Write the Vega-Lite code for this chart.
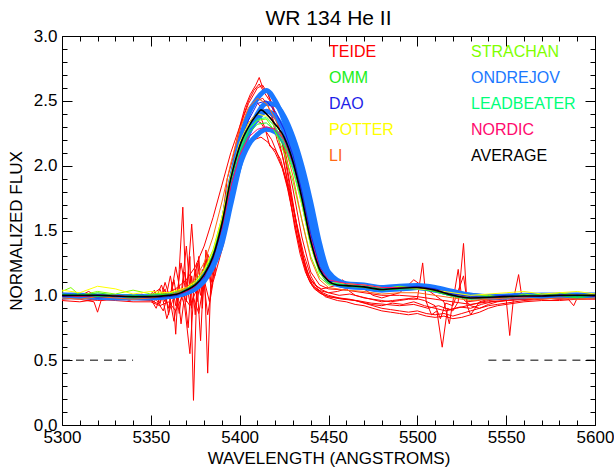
{
  "$schema": "https://vega.github.io/schema/vega-lite/v6.json",
  "width": 533,
  "height": 389,
  "autosize": "none",
  "padding": {"left": 62, "top": 36, "right": 19, "bottom": 46},
  "title": {"text": "WR 134 He II", "fontSize": 21, "fontWeight": "normal", "font": "Liberation Sans", "color": "black", "baseline": "alphabetic", "offset": 9, "frame": "group", "anchor": "middle", "dy": 28},
  "config": {
    "view": {"stroke": null},
    "font": "Liberation Sans",
    "axis": {"grid": false, "domainColor": "black", "tickColor": "black", "labelColor": "black", "titleColor": "black", "labelFont": "Liberation Sans", "titleFont": "Liberation Sans", "labelFontSize": 17, "titleFontSize": 17, "titleFontWeight": "normal", "domainWidth": 1, "tickWidth": 1}
  },
  "datasets": {
    "spec": [
      {"o":"TEIDE","id":"t1","x":5300,"y":0.98},{"o":"TEIDE","id":"t1","x":5310,"y":0.97},{"o":"TEIDE","id":"t1","x":5318,"y":0.95},{"o":"TEIDE","id":"t1","x":5320,"y":0.87},{"o":"TEIDE","id":"t1","x":5322,"y":0.96},{"o":"TEIDE","id":"t1","x":5330,"y":0.98},{"o":"TEIDE","id":"t1","x":5340,"y":0.97},{"o":"TEIDE","id":"t1","x":5350,"y":0.96},{"o":"TEIDE","id":"t1","x":5355,"y":0.93},{"o":"TEIDE","id":"t1","x":5358,"y":1.05},{"o":"TEIDE","id":"t1","x":5360,"y":0.85},{"o":"TEIDE","id":"t1","x":5362,"y":1.1},{"o":"TEIDE","id":"t1","x":5364,"y":0.7},{"o":"TEIDE","id":"t1","x":5366,"y":1.2},{"o":"TEIDE","id":"t1","x":5368,"y":1.68},{"o":"TEIDE","id":"t1","x":5370,"y":0.95},{"o":"TEIDE","id":"t1","x":5372,"y":1.3},{"o":"TEIDE","id":"t1","x":5374,"y":0.19},{"o":"TEIDE","id":"t1","x":5376,"y":1.1},{"o":"TEIDE","id":"t1","x":5378,"y":0.65},{"o":"TEIDE","id":"t1","x":5380,"y":1.25},{"o":"TEIDE","id":"t1","x":5382,"y":0.4},{"o":"TEIDE","id":"t1","x":5384,"y":1.2},{"o":"TEIDE","id":"t1","x":5386,"y":1.15},{"o":"TEIDE","id":"t1","x":5388,"y":1.45},{"o":"TEIDE","id":"t1","x":5390,"y":1.55},{"o":"TEIDE","id":"t1","x":5393,"y":1.9},{"o":"TEIDE","id":"t1","x":5396,"y":2.05},{"o":"TEIDE","id":"t1","x":5400,"y":2.3},{"o":"TEIDE","id":"t1","x":5403,"y":2.45},{"o":"TEIDE","id":"t1","x":5406,"y":2.55},{"o":"TEIDE","id":"t1","x":5409,"y":2.62},{"o":"TEIDE","id":"t1","x":5411,"y":2.68},{"o":"TEIDE","id":"t1","x":5413,"y":2.6},{"o":"TEIDE","id":"t1","x":5416,"y":2.55},{"o":"TEIDE","id":"t1","x":5419,"y":2.45},{"o":"TEIDE","id":"t1","x":5422,"y":2.3},{"o":"TEIDE","id":"t1","x":5425,"y":2.1},{"o":"TEIDE","id":"t1","x":5428,"y":1.85},{"o":"TEIDE","id":"t1","x":5431,"y":1.6},{"o":"TEIDE","id":"t1","x":5434,"y":1.4},{"o":"TEIDE","id":"t1","x":5437,"y":1.22},{"o":"TEIDE","id":"t1","x":5440,"y":1.12},{"o":"TEIDE","id":"t1","x":5445,"y":1.05},{"o":"TEIDE","id":"t1","x":5450,"y":1.02},{"o":"TEIDE","id":"t1","x":5455,"y":1.03},{"o":"TEIDE","id":"t1","x":5460,"y":1.05},{"o":"TEIDE","id":"t1","x":5465,"y":1.0},{"o":"TEIDE","id":"t1","x":5470,"y":0.98},{"o":"TEIDE","id":"t1","x":5475,"y":0.97},{"o":"TEIDE","id":"t1","x":5480,"y":0.96},{"o":"TEIDE","id":"t1","x":5485,"y":0.95},{"o":"TEIDE","id":"t1","x":5490,"y":0.96},{"o":"TEIDE","id":"t1","x":5495,"y":0.97},{"o":"TEIDE","id":"t1","x":5500,"y":0.97},{"o":"TEIDE","id":"t1","x":5503,"y":1.25},{"o":"TEIDE","id":"t1","x":5505,"y":0.95},{"o":"TEIDE","id":"t1","x":5508,"y":0.85},{"o":"TEIDE","id":"t1","x":5511,"y":0.88},{"o":"TEIDE","id":"t1","x":5514,"y":0.6},{"o":"TEIDE","id":"t1","x":5517,"y":0.9},{"o":"TEIDE","id":"t1","x":5520,"y":0.88},{"o":"TEIDE","id":"t1","x":5523,"y":0.95},{"o":"TEIDE","id":"t1","x":5526,"y":1.4},{"o":"TEIDE","id":"t1","x":5528,"y":0.92},{"o":"TEIDE","id":"t1","x":5530,"y":0.85},{"o":"TEIDE","id":"t1","x":5535,"y":0.95},{"o":"TEIDE","id":"t1","x":5540,"y":0.97},{"o":"TEIDE","id":"t1","x":5545,"y":0.98},{"o":"TEIDE","id":"t1","x":5550,"y":0.97},{"o":"TEIDE","id":"t1","x":5552,"y":0.69},{"o":"TEIDE","id":"t1","x":5554,"y":0.96},{"o":"TEIDE","id":"t1","x":5557,"y":1.16},{"o":"TEIDE","id":"t1","x":5559,"y":0.97},{"o":"TEIDE","id":"t1","x":5565,"y":0.98},{"o":"TEIDE","id":"t1","x":5570,"y":0.97},{"o":"TEIDE","id":"t1","x":5575,"y":0.99},{"o":"TEIDE","id":"t1","x":5580,"y":0.98},{"o":"TEIDE","id":"t1","x":5585,"y":0.97},{"o":"TEIDE","id":"t1","x":5588,"y":0.92},{"o":"TEIDE","id":"t1","x":5590,"y":0.98},{"o":"TEIDE","id":"t1","x":5595,"y":0.99},{"o":"TEIDE","id":"t1","x":5600,"y":0.98},

      {"o":"TEIDE","id":"t2","x":5300,"y":1.0},{"o":"TEIDE","id":"t2","x":5305,"y":0.99},{"o":"TEIDE","id":"t2","x":5310,"y":1.01},{"o":"TEIDE","id":"t2","x":5315,"y":0.98},{"o":"TEIDE","id":"t2","x":5320,"y":0.99},{"o":"TEIDE","id":"t2","x":5325,"y":0.97},{"o":"TEIDE","id":"t2","x":5330,"y":1.0},{"o":"TEIDE","id":"t2","x":5335,"y":0.98},{"o":"TEIDE","id":"t2","x":5340,"y":0.97},{"o":"TEIDE","id":"t2","x":5345,"y":0.98},{"o":"TEIDE","id":"t2","x":5350,"y":0.97},{"o":"TEIDE","id":"t2","x":5353,"y":0.9},{"o":"TEIDE","id":"t2","x":5356,"y":1.02},{"o":"TEIDE","id":"t2","x":5359,"y":0.82},{"o":"TEIDE","id":"t2","x":5362,"y":0.95},{"o":"TEIDE","id":"t2","x":5365,"y":1.05},{"o":"TEIDE","id":"t2","x":5367,"y":0.78},{"o":"TEIDE","id":"t2","x":5369,"y":1.0},{"o":"TEIDE","id":"t2","x":5371,"y":0.75},{"o":"TEIDE","id":"t2","x":5373,"y":1.15},{"o":"TEIDE","id":"t2","x":5375,"y":0.85},{"o":"TEIDE","id":"t2","x":5377,"y":1.3},{"o":"TEIDE","id":"t2","x":5379,"y":0.9},{"o":"TEIDE","id":"t2","x":5381,"y":1.35},{"o":"TEIDE","id":"t2","x":5384,"y":1.05},{"o":"TEIDE","id":"t2","x":5387,"y":1.3},{"o":"TEIDE","id":"t2","x":5390,"y":1.45},{"o":"TEIDE","id":"t2","x":5393,"y":1.7},{"o":"TEIDE","id":"t2","x":5396,"y":1.92},{"o":"TEIDE","id":"t2","x":5399,"y":2.1},{"o":"TEIDE","id":"t2","x":5402,"y":2.25},{"o":"TEIDE","id":"t2","x":5405,"y":2.33},{"o":"TEIDE","id":"t2","x":5408,"y":2.38},{"o":"TEIDE","id":"t2","x":5411,"y":2.4},{"o":"TEIDE","id":"t2","x":5414,"y":2.3},{"o":"TEIDE","id":"t2","x":5417,"y":2.15},{"o":"TEIDE","id":"t2","x":5420,"y":2.12},{"o":"TEIDE","id":"t2","x":5423,"y":2.05},{"o":"TEIDE","id":"t2","x":5426,"y":1.9},{"o":"TEIDE","id":"t2","x":5429,"y":1.7},{"o":"TEIDE","id":"t2","x":5432,"y":1.48},{"o":"TEIDE","id":"t2","x":5435,"y":1.3},{"o":"TEIDE","id":"t2","x":5438,"y":1.15},{"o":"TEIDE","id":"t2","x":5441,"y":1.07},{"o":"TEIDE","id":"t2","x":5445,"y":1.02},{"o":"TEIDE","id":"t2","x":5450,"y":0.99},{"o":"TEIDE","id":"t2","x":5455,"y":0.98},{"o":"TEIDE","id":"t2","x":5460,"y":0.97},{"o":"TEIDE","id":"t2","x":5465,"y":0.96},{"o":"TEIDE","id":"t2","x":5470,"y":0.94},{"o":"TEIDE","id":"t2","x":5475,"y":0.92},{"o":"TEIDE","id":"t2","x":5480,"y":0.9},{"o":"TEIDE","id":"t2","x":5485,"y":0.89},{"o":"TEIDE","id":"t2","x":5490,"y":0.88},{"o":"TEIDE","id":"t2","x":5495,"y":0.87},{"o":"TEIDE","id":"t2","x":5500,"y":0.88},{"o":"TEIDE","id":"t2","x":5505,"y":0.86},{"o":"TEIDE","id":"t2","x":5510,"y":0.85},{"o":"TEIDE","id":"t2","x":5515,"y":0.86},{"o":"TEIDE","id":"t2","x":5520,"y":0.84},{"o":"TEIDE","id":"t2","x":5525,"y":0.86},{"o":"TEIDE","id":"t2","x":5530,"y":0.88},{"o":"TEIDE","id":"t2","x":5535,"y":0.9},{"o":"TEIDE","id":"t2","x":5540,"y":0.92},{"o":"TEIDE","id":"t2","x":5545,"y":0.93},{"o":"TEIDE","id":"t2","x":5550,"y":0.94},{"o":"TEIDE","id":"t2","x":5555,"y":0.95},{"o":"TEIDE","id":"t2","x":5560,"y":0.96},{"o":"TEIDE","id":"t2","x":5570,"y":0.97},{"o":"TEIDE","id":"t2","x":5580,"y":0.98},{"o":"TEIDE","id":"t2","x":5590,"y":0.97},{"o":"TEIDE","id":"t2","x":5600,"y":0.98},

      {"o":"TEIDE","id":"t3","x":5300,"y":0.97},{"o":"TEIDE","id":"t3","x":5310,"y":0.98},{"o":"TEIDE","id":"t3","x":5320,"y":0.96},{"o":"TEIDE","id":"t3","x":5330,"y":0.97},{"o":"TEIDE","id":"t3","x":5340,"y":0.98},{"o":"TEIDE","id":"t3","x":5350,"y":1.0},{"o":"TEIDE","id":"t3","x":5355,"y":1.05},{"o":"TEIDE","id":"t3","x":5358,"y":0.95},{"o":"TEIDE","id":"t3","x":5361,"y":1.15},{"o":"TEIDE","id":"t3","x":5364,"y":0.92},{"o":"TEIDE","id":"t3","x":5367,"y":1.25},{"o":"TEIDE","id":"t3","x":5370,"y":1.0},{"o":"TEIDE","id":"t3","x":5373,"y":1.55},{"o":"TEIDE","id":"t3","x":5376,"y":0.95},{"o":"TEIDE","id":"t3","x":5379,"y":1.2},{"o":"TEIDE","id":"t3","x":5382,"y":0.85},{"o":"TEIDE","id":"t3","x":5385,"y":1.1},{"o":"TEIDE","id":"t3","x":5388,"y":1.25},{"o":"TEIDE","id":"t3","x":5391,"y":1.4},{"o":"TEIDE","id":"t3","x":5394,"y":1.65},{"o":"TEIDE","id":"t3","x":5397,"y":1.88},{"o":"TEIDE","id":"t3","x":5400,"y":2.1},{"o":"TEIDE","id":"t3","x":5403,"y":2.3},{"o":"TEIDE","id":"t3","x":5406,"y":2.42},{"o":"TEIDE","id":"t3","x":5409,"y":2.5},{"o":"TEIDE","id":"t3","x":5412,"y":2.45},{"o":"TEIDE","id":"t3","x":5415,"y":2.42},{"o":"TEIDE","id":"t3","x":5418,"y":2.38},{"o":"TEIDE","id":"t3","x":5421,"y":2.2},{"o":"TEIDE","id":"t3","x":5424,"y":2.08},{"o":"TEIDE","id":"t3","x":5427,"y":1.88},{"o":"TEIDE","id":"t3","x":5430,"y":1.7},{"o":"TEIDE","id":"t3","x":5433,"y":1.48},{"o":"TEIDE","id":"t3","x":5436,"y":1.28},{"o":"TEIDE","id":"t3","x":5439,"y":1.15},{"o":"TEIDE","id":"t3","x":5442,"y":1.08},{"o":"TEIDE","id":"t3","x":5446,"y":1.05},{"o":"TEIDE","id":"t3","x":5450,"y":1.06},{"o":"TEIDE","id":"t3","x":5455,"y":1.08},{"o":"TEIDE","id":"t3","x":5458,"y":1.12},{"o":"TEIDE","id":"t3","x":5460,"y":1.08},{"o":"TEIDE","id":"t3","x":5465,"y":1.07},{"o":"TEIDE","id":"t3","x":5470,"y":1.05},{"o":"TEIDE","id":"t3","x":5475,"y":1.0},{"o":"TEIDE","id":"t3","x":5480,"y":0.98},{"o":"TEIDE","id":"t3","x":5485,"y":1.0},{"o":"TEIDE","id":"t3","x":5490,"y":1.02},{"o":"TEIDE","id":"t3","x":5495,"y":1.08},{"o":"TEIDE","id":"t3","x":5498,"y":1.12},{"o":"TEIDE","id":"t3","x":5502,"y":1.08},{"o":"TEIDE","id":"t3","x":5505,"y":1.05},{"o":"TEIDE","id":"t3","x":5510,"y":1.0},{"o":"TEIDE","id":"t3","x":5515,"y":0.95},{"o":"TEIDE","id":"t3","x":5518,"y":0.78},{"o":"TEIDE","id":"t3","x":5520,"y":0.95},{"o":"TEIDE","id":"t3","x":5523,"y":1.2},{"o":"TEIDE","id":"t3","x":5525,"y":0.98},{"o":"TEIDE","id":"t3","x":5530,"y":0.92},{"o":"TEIDE","id":"t3","x":5535,"y":0.9},{"o":"TEIDE","id":"t3","x":5540,"y":0.93},{"o":"TEIDE","id":"t3","x":5545,"y":0.95},{"o":"TEIDE","id":"t3","x":5550,"y":0.96},{"o":"TEIDE","id":"t3","x":5555,"y":0.97},{"o":"TEIDE","id":"t3","x":5560,"y":0.97},{"o":"TEIDE","id":"t3","x":5570,"y":0.98},{"o":"TEIDE","id":"t3","x":5580,"y":0.97},{"o":"TEIDE","id":"t3","x":5590,"y":0.98},{"o":"TEIDE","id":"t3","x":5600,"y":0.99},

      {"o":"TEIDE","id":"t4","x":5300,"y":1.0},{"o":"TEIDE","id":"t4","x":5310,"y":0.99},{"o":"TEIDE","id":"t4","x":5320,"y":1.0},{"o":"TEIDE","id":"t4","x":5330,"y":0.99},{"o":"TEIDE","id":"t4","x":5340,"y":0.99},{"o":"TEIDE","id":"t4","x":5350,"y":0.99},{"o":"TEIDE","id":"t4","x":5355,"y":1.0},{"o":"TEIDE","id":"t4","x":5360,"y":1.02},{"o":"TEIDE","id":"t4","x":5365,"y":1.06},{"o":"TEIDE","id":"t4","x":5370,"y":1.12},{"o":"TEIDE","id":"t4","x":5375,"y":1.22},{"o":"TEIDE","id":"t4","x":5380,"y":1.38},{"o":"TEIDE","id":"t4","x":5385,"y":1.6},{"o":"TEIDE","id":"t4","x":5390,"y":1.85},{"o":"TEIDE","id":"t4","x":5395,"y":2.1},{"o":"TEIDE","id":"t4","x":5400,"y":2.3},{"o":"TEIDE","id":"t4","x":5405,"y":2.48},{"o":"TEIDE","id":"t4","x":5410,"y":2.6},{"o":"TEIDE","id":"t4","x":5413,"y":2.62},{"o":"TEIDE","id":"t4","x":5416,"y":2.55},{"o":"TEIDE","id":"t4","x":5420,"y":2.4},{"o":"TEIDE","id":"t4","x":5425,"y":2.15},{"o":"TEIDE","id":"t4","x":5430,"y":1.82},{"o":"TEIDE","id":"t4","x":5435,"y":1.45},{"o":"TEIDE","id":"t4","x":5440,"y":1.18},{"o":"TEIDE","id":"t4","x":5445,"y":1.08},{"o":"TEIDE","id":"t4","x":5450,"y":1.05},{"o":"TEIDE","id":"t4","x":5460,"y":1.04},{"o":"TEIDE","id":"t4","x":5470,"y":1.02},{"o":"TEIDE","id":"t4","x":5480,"y":1.0},{"o":"TEIDE","id":"t4","x":5490,"y":1.0},{"o":"TEIDE","id":"t4","x":5500,"y":0.99},{"o":"TEIDE","id":"t4","x":5510,"y":0.97},{"o":"TEIDE","id":"t4","x":5520,"y":0.95},{"o":"TEIDE","id":"t4","x":5530,"y":0.93},{"o":"TEIDE","id":"t4","x":5540,"y":0.95},{"o":"TEIDE","id":"t4","x":5550,"y":0.96},{"o":"TEIDE","id":"t4","x":5560,"y":0.97},{"o":"TEIDE","id":"t4","x":5570,"y":0.98},{"o":"TEIDE","id":"t4","x":5580,"y":0.99},{"o":"TEIDE","id":"t4","x":5590,"y":0.98},{"o":"TEIDE","id":"t4","x":5600,"y":0.99},

      {"o":"TEIDE","id":"t5","x":5300,"y":0.96},{"o":"TEIDE","id":"t5","x":5310,"y":0.95},{"o":"TEIDE","id":"t5","x":5320,"y":0.97},{"o":"TEIDE","id":"t5","x":5330,"y":0.96},{"o":"TEIDE","id":"t5","x":5340,"y":0.95},{"o":"TEIDE","id":"t5","x":5350,"y":0.95},{"o":"TEIDE","id":"t5","x":5355,"y":0.92},{"o":"TEIDE","id":"t5","x":5360,"y":0.95},{"o":"TEIDE","id":"t5","x":5364,"y":0.88},{"o":"TEIDE","id":"t5","x":5368,"y":1.0},{"o":"TEIDE","id":"t5","x":5372,"y":0.92},{"o":"TEIDE","id":"t5","x":5376,"y":1.05},{"o":"TEIDE","id":"t5","x":5380,"y":1.1},{"o":"TEIDE","id":"t5","x":5384,"y":1.2},{"o":"TEIDE","id":"t5","x":5388,"y":1.35},{"o":"TEIDE","id":"t5","x":5392,"y":1.6},{"o":"TEIDE","id":"t5","x":5396,"y":1.85},{"o":"TEIDE","id":"t5","x":5400,"y":2.02},{"o":"TEIDE","id":"t5","x":5404,"y":2.15},{"o":"TEIDE","id":"t5","x":5408,"y":2.2},{"o":"TEIDE","id":"t5","x":5412,"y":2.22},{"o":"TEIDE","id":"t5","x":5416,"y":2.18},{"o":"TEIDE","id":"t5","x":5420,"y":2.1},{"o":"TEIDE","id":"t5","x":5424,"y":1.98},{"o":"TEIDE","id":"t5","x":5428,"y":1.8},{"o":"TEIDE","id":"t5","x":5432,"y":1.56},{"o":"TEIDE","id":"t5","x":5436,"y":1.32},{"o":"TEIDE","id":"t5","x":5440,"y":1.15},{"o":"TEIDE","id":"t5","x":5444,"y":1.05},{"o":"TEIDE","id":"t5","x":5448,"y":0.99},{"o":"TEIDE","id":"t5","x":5455,"y":0.96},{"o":"TEIDE","id":"t5","x":5460,"y":0.95},{"o":"TEIDE","id":"t5","x":5465,"y":0.93},{"o":"TEIDE","id":"t5","x":5470,"y":0.92},{"o":"TEIDE","id":"t5","x":5475,"y":0.9},{"o":"TEIDE","id":"t5","x":5480,"y":0.88},{"o":"TEIDE","id":"t5","x":5485,"y":0.87},{"o":"TEIDE","id":"t5","x":5490,"y":0.86},{"o":"TEIDE","id":"t5","x":5495,"y":0.85},{"o":"TEIDE","id":"t5","x":5500,"y":0.86},{"o":"TEIDE","id":"t5","x":5505,"y":0.84},{"o":"TEIDE","id":"t5","x":5510,"y":0.83},{"o":"TEIDE","id":"t5","x":5515,"y":0.84},{"o":"TEIDE","id":"t5","x":5520,"y":0.82},{"o":"TEIDE","id":"t5","x":5525,"y":0.83},{"o":"TEIDE","id":"t5","x":5530,"y":0.85},{"o":"TEIDE","id":"t5","x":5535,"y":0.87},{"o":"TEIDE","id":"t5","x":5540,"y":0.9},{"o":"TEIDE","id":"t5","x":5545,"y":0.92},{"o":"TEIDE","id":"t5","x":5550,"y":0.93},{"o":"TEIDE","id":"t5","x":5555,"y":0.94},{"o":"TEIDE","id":"t5","x":5560,"y":0.95},{"o":"TEIDE","id":"t5","x":5570,"y":0.96},{"o":"TEIDE","id":"t5","x":5580,"y":0.96},{"o":"TEIDE","id":"t5","x":5590,"y":0.97},{"o":"TEIDE","id":"t5","x":5600,"y":0.97},

      {"o":"TEIDE","id":"t6","x":5300,"y":1.02},{"o":"TEIDE","id":"t6","x":5308,"y":0.98},{"o":"TEIDE","id":"t6","x":5315,"y":1.03},{"o":"TEIDE","id":"t6","x":5322,"y":0.97},{"o":"TEIDE","id":"t6","x":5330,"y":1.0},{"o":"TEIDE","id":"t6","x":5338,"y":0.96},{"o":"TEIDE","id":"t6","x":5345,"y":1.01},{"o":"TEIDE","id":"t6","x":5352,"y":0.95},{"o":"TEIDE","id":"t6","x":5356,"y":1.08},{"o":"TEIDE","id":"t6","x":5360,"y":0.9},{"o":"TEIDE","id":"t6","x":5363,"y":1.12},{"o":"TEIDE","id":"t6","x":5366,"y":0.86},{"o":"TEIDE","id":"t6","x":5369,"y":1.18},{"o":"TEIDE","id":"t6","x":5372,"y":0.94},{"o":"TEIDE","id":"t6","x":5375,"y":1.2},{"o":"TEIDE","id":"t6","x":5378,"y":1.0},{"o":"TEIDE","id":"t6","x":5381,"y":1.28},{"o":"TEIDE","id":"t6","x":5384,"y":1.1},{"o":"TEIDE","id":"t6","x":5387,"y":1.38},{"o":"TEIDE","id":"t6","x":5390,"y":1.5},{"o":"TEIDE","id":"t6","x":5393,"y":1.75},{"o":"TEIDE","id":"t6","x":5396,"y":2.0},{"o":"TEIDE","id":"t6","x":5399,"y":2.2},{"o":"TEIDE","id":"t6","x":5402,"y":2.38},{"o":"TEIDE","id":"t6","x":5405,"y":2.5},{"o":"TEIDE","id":"t6","x":5408,"y":2.58},{"o":"TEIDE","id":"t6","x":5411,"y":2.63},{"o":"TEIDE","id":"t6","x":5414,"y":2.56},{"o":"TEIDE","id":"t6","x":5417,"y":2.5},{"o":"TEIDE","id":"t6","x":5420,"y":2.38},{"o":"TEIDE","id":"t6","x":5423,"y":2.25},{"o":"TEIDE","id":"t6","x":5426,"y":2.05},{"o":"TEIDE","id":"t6","x":5429,"y":1.8},{"o":"TEIDE","id":"t6","x":5432,"y":1.55},{"o":"TEIDE","id":"t6","x":5435,"y":1.34},{"o":"TEIDE","id":"t6","x":5438,"y":1.18},{"o":"TEIDE","id":"t6","x":5441,"y":1.08},{"o":"TEIDE","id":"t6","x":5445,"y":1.03},{"o":"TEIDE","id":"t6","x":5450,"y":1.0},{"o":"TEIDE","id":"t6","x":5456,"y":0.98},{"o":"TEIDE","id":"t6","x":5462,"y":0.97},{"o":"TEIDE","id":"t6","x":5468,"y":0.95},{"o":"TEIDE","id":"t6","x":5474,"y":0.93},{"o":"TEIDE","id":"t6","x":5480,"y":0.92},{"o":"TEIDE","id":"t6","x":5486,"y":0.94},{"o":"TEIDE","id":"t6","x":5492,"y":0.93},{"o":"TEIDE","id":"t6","x":5498,"y":0.95},{"o":"TEIDE","id":"t6","x":5504,"y":0.92},{"o":"TEIDE","id":"t6","x":5510,"y":0.9},{"o":"TEIDE","id":"t6","x":5516,"y":0.88},{"o":"TEIDE","id":"t6","x":5522,"y":0.9},{"o":"TEIDE","id":"t6","x":5528,"y":0.92},{"o":"TEIDE","id":"t6","x":5534,"y":0.94},{"o":"TEIDE","id":"t6","x":5540,"y":0.96},{"o":"TEIDE","id":"t6","x":5548,"y":0.97},{"o":"TEIDE","id":"t6","x":5556,"y":0.98},{"o":"TEIDE","id":"t6","x":5564,"y":0.97},{"o":"TEIDE","id":"t6","x":5572,"y":0.99},{"o":"TEIDE","id":"t6","x":5580,"y":0.98},{"o":"TEIDE","id":"t6","x":5590,"y":0.99},{"o":"TEIDE","id":"t6","x":5600,"y":0.98},

      {"o":"TEIDE","id":"t7","x":5300,"y":0.99},{"o":"TEIDE","id":"t7","x":5310,"y":0.98},{"o":"TEIDE","id":"t7","x":5320,"y":0.99},{"o":"TEIDE","id":"t7","x":5330,"y":0.98},{"o":"TEIDE","id":"t7","x":5340,"y":0.97},{"o":"TEIDE","id":"t7","x":5348,"y":0.98},{"o":"TEIDE","id":"t7","x":5352,"y":1.04},{"o":"TEIDE","id":"t7","x":5355,"y":0.94},{"o":"TEIDE","id":"t7","x":5358,"y":1.1},{"o":"TEIDE","id":"t7","x":5361,"y":0.97},{"o":"TEIDE","id":"t7","x":5364,"y":1.22},{"o":"TEIDE","id":"t7","x":5367,"y":1.0},{"o":"TEIDE","id":"t7","x":5370,"y":1.38},{"o":"TEIDE","id":"t7","x":5373,"y":0.9},{"o":"TEIDE","id":"t7","x":5376,"y":1.25},{"o":"TEIDE","id":"t7","x":5379,"y":1.05},{"o":"TEIDE","id":"t7","x":5382,"y":1.32},{"o":"TEIDE","id":"t7","x":5385,"y":1.2},{"o":"TEIDE","id":"t7","x":5388,"y":1.3},{"o":"TEIDE","id":"t7","x":5391,"y":1.5},{"o":"TEIDE","id":"t7","x":5394,"y":1.72},{"o":"TEIDE","id":"t7","x":5397,"y":1.95},{"o":"TEIDE","id":"t7","x":5400,"y":2.12},{"o":"TEIDE","id":"t7","x":5403,"y":2.22},{"o":"TEIDE","id":"t7","x":5406,"y":2.3},{"o":"TEIDE","id":"t7","x":5409,"y":2.35},{"o":"TEIDE","id":"t7","x":5412,"y":2.33},{"o":"TEIDE","id":"t7","x":5415,"y":2.26},{"o":"TEIDE","id":"t7","x":5418,"y":2.2},{"o":"TEIDE","id":"t7","x":5421,"y":2.1},{"o":"TEIDE","id":"t7","x":5424,"y":1.98},{"o":"TEIDE","id":"t7","x":5427,"y":1.82},{"o":"TEIDE","id":"t7","x":5430,"y":1.62},{"o":"TEIDE","id":"t7","x":5433,"y":1.42},{"o":"TEIDE","id":"t7","x":5436,"y":1.25},{"o":"TEIDE","id":"t7","x":5439,"y":1.12},{"o":"TEIDE","id":"t7","x":5442,"y":1.05},{"o":"TEIDE","id":"t7","x":5446,"y":1.01},{"o":"TEIDE","id":"t7","x":5450,"y":0.99},{"o":"TEIDE","id":"t7","x":5458,"y":0.97},{"o":"TEIDE","id":"t7","x":5466,"y":0.96},{"o":"TEIDE","id":"t7","x":5474,"y":0.94},{"o":"TEIDE","id":"t7","x":5482,"y":0.93},{"o":"TEIDE","id":"t7","x":5490,"y":0.92},{"o":"TEIDE","id":"t7","x":5498,"y":0.93},{"o":"TEIDE","id":"t7","x":5506,"y":0.9},{"o":"TEIDE","id":"t7","x":5512,"y":0.92},{"o":"TEIDE","id":"t7","x":5518,"y":0.89},{"o":"TEIDE","id":"t7","x":5524,"y":0.91},{"o":"TEIDE","id":"t7","x":5530,"y":0.9},{"o":"TEIDE","id":"t7","x":5536,"y":0.93},{"o":"TEIDE","id":"t7","x":5542,"y":0.95},{"o":"TEIDE","id":"t7","x":5550,"y":0.96},{"o":"TEIDE","id":"t7","x":5560,"y":0.97},{"o":"TEIDE","id":"t7","x":5570,"y":0.98},{"o":"TEIDE","id":"t7","x":5580,"y":0.97},{"o":"TEIDE","id":"t7","x":5590,"y":0.98},{"o":"TEIDE","id":"t7","x":5600,"y":0.98},

      {"o":"TEIDE","id":"t8","x":5300,"y":0.98},{"o":"TEIDE","id":"t8","x":5312,"y":0.99},{"o":"TEIDE","id":"t8","x":5325,"y":0.98},{"o":"TEIDE","id":"t8","x":5335,"y":0.99},{"o":"TEIDE","id":"t8","x":5345,"y":0.97},{"o":"TEIDE","id":"t8","x":5352,"y":0.99},{"o":"TEIDE","id":"t8","x":5357,"y":0.88},{"o":"TEIDE","id":"t8","x":5360,"y":1.02},{"o":"TEIDE","id":"t8","x":5363,"y":0.8},{"o":"TEIDE","id":"t8","x":5366,"y":1.05},{"o":"TEIDE","id":"t8","x":5369,"y":0.92},{"o":"TEIDE","id":"t8","x":5372,"y":0.55},{"o":"TEIDE","id":"t8","x":5374,"y":0.98},{"o":"TEIDE","id":"t8","x":5377,"y":0.86},{"o":"TEIDE","id":"t8","x":5380,"y":1.12},{"o":"TEIDE","id":"t8","x":5383,"y":0.95},{"o":"TEIDE","id":"t8","x":5386,"y":1.22},{"o":"TEIDE","id":"t8","x":5389,"y":1.36},{"o":"TEIDE","id":"t8","x":5392,"y":1.58},{"o":"TEIDE","id":"t8","x":5395,"y":1.82},{"o":"TEIDE","id":"t8","x":5398,"y":2.02},{"o":"TEIDE","id":"t8","x":5401,"y":2.2},{"o":"TEIDE","id":"t8","x":5404,"y":2.35},{"o":"TEIDE","id":"t8","x":5407,"y":2.44},{"o":"TEIDE","id":"t8","x":5410,"y":2.5},{"o":"TEIDE","id":"t8","x":5413,"y":2.52},{"o":"TEIDE","id":"t8","x":5416,"y":2.46},{"o":"TEIDE","id":"t8","x":5419,"y":2.35},{"o":"TEIDE","id":"t8","x":5422,"y":2.2},{"o":"TEIDE","id":"t8","x":5425,"y":2.02},{"o":"TEIDE","id":"t8","x":5428,"y":1.78},{"o":"TEIDE","id":"t8","x":5431,"y":1.52},{"o":"TEIDE","id":"t8","x":5434,"y":1.32},{"o":"TEIDE","id":"t8","x":5437,"y":1.18},{"o":"TEIDE","id":"t8","x":5440,"y":1.09},{"o":"TEIDE","id":"t8","x":5444,"y":1.04},{"o":"TEIDE","id":"t8","x":5450,"y":1.02},{"o":"TEIDE","id":"t8","x":5456,"y":1.0},{"o":"TEIDE","id":"t8","x":5462,"y":1.01},{"o":"TEIDE","id":"t8","x":5468,"y":0.99},{"o":"TEIDE","id":"t8","x":5474,"y":0.97},{"o":"TEIDE","id":"t8","x":5480,"y":0.95},{"o":"TEIDE","id":"t8","x":5486,"y":0.96},{"o":"TEIDE","id":"t8","x":5492,"y":0.97},{"o":"TEIDE","id":"t8","x":5498,"y":0.98},{"o":"TEIDE","id":"t8","x":5504,"y":0.96},{"o":"TEIDE","id":"t8","x":5510,"y":0.92},{"o":"TEIDE","id":"t8","x":5513,"y":0.82},{"o":"TEIDE","id":"t8","x":5516,"y":0.94},{"o":"TEIDE","id":"t8","x":5520,"y":0.92},{"o":"TEIDE","id":"t8","x":5526,"y":1.15},{"o":"TEIDE","id":"t8","x":5528,"y":0.95},{"o":"TEIDE","id":"t8","x":5534,"y":0.96},{"o":"TEIDE","id":"t8","x":5540,"y":0.98},{"o":"TEIDE","id":"t8","x":5548,"y":0.99},{"o":"TEIDE","id":"t8","x":5556,"y":0.98},{"o":"TEIDE","id":"t8","x":5564,"y":0.99},{"o":"TEIDE","id":"t8","x":5572,"y":0.98},{"o":"TEIDE","id":"t8","x":5580,"y":0.99},{"o":"TEIDE","id":"t8","x":5590,"y":0.98},{"o":"TEIDE","id":"t8","x":5600,"y":0.99},

      {"o":"ONDREJOV","id":"n1","x":5300,"y":1.0},{"o":"ONDREJOV","id":"n1","x":5310,"y":1.0},{"o":"ONDREJOV","id":"n1","x":5320,"y":0.995},{"o":"ONDREJOV","id":"n1","x":5330,"y":0.99},{"o":"ONDREJOV","id":"n1","x":5340,"y":0.99},{"o":"ONDREJOV","id":"n1","x":5350,"y":0.99},{"o":"ONDREJOV","id":"n1","x":5360,"y":0.995},{"o":"ONDREJOV","id":"n1","x":5365,"y":1.01},{"o":"ONDREJOV","id":"n1","x":5370,"y":1.03},{"o":"ONDREJOV","id":"n1","x":5375,"y":1.07},{"o":"ONDREJOV","id":"n1","x":5380,"y":1.15},{"o":"ONDREJOV","id":"n1","x":5385,"y":1.28},{"o":"ONDREJOV","id":"n1","x":5390,"y":1.52},{"o":"ONDREJOV","id":"n1","x":5395,"y":1.88},{"o":"ONDREJOV","id":"n1","x":5400,"y":2.18},{"o":"ONDREJOV","id":"n1","x":5405,"y":2.4},{"o":"ONDREJOV","id":"n1","x":5410,"y":2.52},{"o":"ONDREJOV","id":"n1","x":5415,"y":2.58},{"o":"ONDREJOV","id":"n1","x":5420,"y":2.5},{"o":"ONDREJOV","id":"n1","x":5425,"y":2.35},{"o":"ONDREJOV","id":"n1","x":5430,"y":2.15},{"o":"ONDREJOV","id":"n1","x":5435,"y":1.9},{"o":"ONDREJOV","id":"n1","x":5440,"y":1.6},{"o":"ONDREJOV","id":"n1","x":5445,"y":1.3},{"o":"ONDREJOV","id":"n1","x":5450,"y":1.13},{"o":"ONDREJOV","id":"n1","x":5460,"y":1.08},{"o":"ONDREJOV","id":"n1","x":5470,"y":1.07},{"o":"ONDREJOV","id":"n1","x":5480,"y":1.05},{"o":"ONDREJOV","id":"n1","x":5490,"y":1.06},{"o":"ONDREJOV","id":"n1","x":5500,"y":1.07},{"o":"ONDREJOV","id":"n1","x":5510,"y":1.05},{"o":"ONDREJOV","id":"n1","x":5520,"y":1.02},{"o":"ONDREJOV","id":"n1","x":5530,"y":1.0},{"o":"ONDREJOV","id":"n1","x":5540,"y":0.99},{"o":"ONDREJOV","id":"n1","x":5550,"y":0.995},{"o":"ONDREJOV","id":"n1","x":5560,"y":1.0},{"o":"ONDREJOV","id":"n1","x":5570,"y":1.0},{"o":"ONDREJOV","id":"n1","x":5580,"y":1.0},{"o":"ONDREJOV","id":"n1","x":5590,"y":1.0},{"o":"ONDREJOV","id":"n1","x":5600,"y":1.0},

      {"o":"ONDREJOV","id":"n2","x":5300,"y":0.99},{"o":"ONDREJOV","id":"n2","x":5310,"y":0.99},{"o":"ONDREJOV","id":"n2","x":5320,"y":0.985},{"o":"ONDREJOV","id":"n2","x":5330,"y":0.98},{"o":"ONDREJOV","id":"n2","x":5340,"y":0.98},{"o":"ONDREJOV","id":"n2","x":5350,"y":0.98},{"o":"ONDREJOV","id":"n2","x":5360,"y":0.99},{"o":"ONDREJOV","id":"n2","x":5365,"y":1.0},{"o":"ONDREJOV","id":"n2","x":5370,"y":1.02},{"o":"ONDREJOV","id":"n2","x":5375,"y":1.06},{"o":"ONDREJOV","id":"n2","x":5380,"y":1.13},{"o":"ONDREJOV","id":"n2","x":5385,"y":1.25},{"o":"ONDREJOV","id":"n2","x":5390,"y":1.45},{"o":"ONDREJOV","id":"n2","x":5395,"y":1.78},{"o":"ONDREJOV","id":"n2","x":5400,"y":2.05},{"o":"ONDREJOV","id":"n2","x":5405,"y":2.25},{"o":"ONDREJOV","id":"n2","x":5410,"y":2.36},{"o":"ONDREJOV","id":"n2","x":5415,"y":2.42},{"o":"ONDREJOV","id":"n2","x":5420,"y":2.38},{"o":"ONDREJOV","id":"n2","x":5425,"y":2.27},{"o":"ONDREJOV","id":"n2","x":5430,"y":2.1},{"o":"ONDREJOV","id":"n2","x":5435,"y":1.87},{"o":"ONDREJOV","id":"n2","x":5440,"y":1.57},{"o":"ONDREJOV","id":"n2","x":5445,"y":1.28},{"o":"ONDREJOV","id":"n2","x":5450,"y":1.12},{"o":"ONDREJOV","id":"n2","x":5460,"y":1.07},{"o":"ONDREJOV","id":"n2","x":5470,"y":1.06},{"o":"ONDREJOV","id":"n2","x":5480,"y":1.04},{"o":"ONDREJOV","id":"n2","x":5490,"y":1.05},{"o":"ONDREJOV","id":"n2","x":5500,"y":1.06},{"o":"ONDREJOV","id":"n2","x":5510,"y":1.04},{"o":"ONDREJOV","id":"n2","x":5520,"y":1.01},{"o":"ONDREJOV","id":"n2","x":5530,"y":0.99},{"o":"ONDREJOV","id":"n2","x":5540,"y":0.985},{"o":"ONDREJOV","id":"n2","x":5550,"y":0.99},{"o":"ONDREJOV","id":"n2","x":5560,"y":0.99},{"o":"ONDREJOV","id":"n2","x":5570,"y":0.995},{"o":"ONDREJOV","id":"n2","x":5580,"y":0.995},{"o":"ONDREJOV","id":"n2","x":5590,"y":0.995},{"o":"ONDREJOV","id":"n2","x":5600,"y":0.995},

      {"o":"ONDREJOV","id":"n3","x":5300,"y":1.0},{"o":"ONDREJOV","id":"n3","x":5310,"y":1.0},{"o":"ONDREJOV","id":"n3","x":5320,"y":0.99},{"o":"ONDREJOV","id":"n3","x":5330,"y":0.99},{"o":"ONDREJOV","id":"n3","x":5340,"y":0.99},{"o":"ONDREJOV","id":"n3","x":5350,"y":0.985},{"o":"ONDREJOV","id":"n3","x":5360,"y":0.99},{"o":"ONDREJOV","id":"n3","x":5365,"y":1.0},{"o":"ONDREJOV","id":"n3","x":5370,"y":1.02},{"o":"ONDREJOV","id":"n3","x":5375,"y":1.05},{"o":"ONDREJOV","id":"n3","x":5380,"y":1.12},{"o":"ONDREJOV","id":"n3","x":5385,"y":1.24},{"o":"ONDREJOV","id":"n3","x":5390,"y":1.44},{"o":"ONDREJOV","id":"n3","x":5395,"y":1.74},{"o":"ONDREJOV","id":"n3","x":5400,"y":2.0},{"o":"ONDREJOV","id":"n3","x":5405,"y":2.16},{"o":"ONDREJOV","id":"n3","x":5410,"y":2.24},{"o":"ONDREJOV","id":"n3","x":5415,"y":2.28},{"o":"ONDREJOV","id":"n3","x":5420,"y":2.26},{"o":"ONDREJOV","id":"n3","x":5425,"y":2.18},{"o":"ONDREJOV","id":"n3","x":5430,"y":2.04},{"o":"ONDREJOV","id":"n3","x":5435,"y":1.82},{"o":"ONDREJOV","id":"n3","x":5440,"y":1.52},{"o":"ONDREJOV","id":"n3","x":5445,"y":1.25},{"o":"ONDREJOV","id":"n3","x":5450,"y":1.11},{"o":"ONDREJOV","id":"n3","x":5460,"y":1.07},{"o":"ONDREJOV","id":"n3","x":5470,"y":1.06},{"o":"ONDREJOV","id":"n3","x":5480,"y":1.05},{"o":"ONDREJOV","id":"n3","x":5490,"y":1.05},{"o":"ONDREJOV","id":"n3","x":5500,"y":1.06},{"o":"ONDREJOV","id":"n3","x":5510,"y":1.04},{"o":"ONDREJOV","id":"n3","x":5520,"y":1.01},{"o":"ONDREJOV","id":"n3","x":5530,"y":0.99},{"o":"ONDREJOV","id":"n3","x":5540,"y":0.99},{"o":"ONDREJOV","id":"n3","x":5550,"y":0.99},{"o":"ONDREJOV","id":"n3","x":5560,"y":0.995},{"o":"ONDREJOV","id":"n3","x":5570,"y":1.0},{"o":"ONDREJOV","id":"n3","x":5580,"y":1.0},{"o":"ONDREJOV","id":"n3","x":5590,"y":1.0},{"o":"ONDREJOV","id":"n3","x":5600,"y":1.0},

      {"o":"ONDREJOV","id":"n4","x":5300,"y":1.0},{"o":"ONDREJOV","id":"n4","x":5310,"y":0.995},{"o":"ONDREJOV","id":"n4","x":5320,"y":0.99},{"o":"ONDREJOV","id":"n4","x":5330,"y":0.985},{"o":"ONDREJOV","id":"n4","x":5340,"y":0.985},{"o":"ONDREJOV","id":"n4","x":5350,"y":0.985},{"o":"ONDREJOV","id":"n4","x":5360,"y":0.99},{"o":"ONDREJOV","id":"n4","x":5365,"y":1.0},{"o":"ONDREJOV","id":"n4","x":5370,"y":1.02},{"o":"ONDREJOV","id":"n4","x":5375,"y":1.05},{"o":"ONDREJOV","id":"n4","x":5380,"y":1.11},{"o":"ONDREJOV","id":"n4","x":5385,"y":1.22},{"o":"ONDREJOV","id":"n4","x":5390,"y":1.4},{"o":"ONDREJOV","id":"n4","x":5395,"y":1.7},{"o":"ONDREJOV","id":"n4","x":5400,"y":2.0},{"o":"ONDREJOV","id":"n4","x":5405,"y":2.25},{"o":"ONDREJOV","id":"n4","x":5410,"y":2.4},{"o":"ONDREJOV","id":"n4","x":5415,"y":2.48},{"o":"ONDREJOV","id":"n4","x":5420,"y":2.47},{"o":"ONDREJOV","id":"n4","x":5425,"y":2.38},{"o":"ONDREJOV","id":"n4","x":5430,"y":2.22},{"o":"ONDREJOV","id":"n4","x":5435,"y":2.0},{"o":"ONDREJOV","id":"n4","x":5440,"y":1.72},{"o":"ONDREJOV","id":"n4","x":5445,"y":1.4},{"o":"ONDREJOV","id":"n4","x":5450,"y":1.18},{"o":"ONDREJOV","id":"n4","x":5460,"y":1.09},{"o":"ONDREJOV","id":"n4","x":5470,"y":1.08},{"o":"ONDREJOV","id":"n4","x":5480,"y":1.06},{"o":"ONDREJOV","id":"n4","x":5490,"y":1.07},{"o":"ONDREJOV","id":"n4","x":5500,"y":1.075},{"o":"ONDREJOV","id":"n4","x":5510,"y":1.06},{"o":"ONDREJOV","id":"n4","x":5520,"y":1.03},{"o":"ONDREJOV","id":"n4","x":5530,"y":1.0},{"o":"ONDREJOV","id":"n4","x":5540,"y":0.99},{"o":"ONDREJOV","id":"n4","x":5550,"y":0.99},{"o":"ONDREJOV","id":"n4","x":5560,"y":0.995},{"o":"ONDREJOV","id":"n4","x":5570,"y":0.995},{"o":"ONDREJOV","id":"n4","x":5580,"y":1.0},{"o":"ONDREJOV","id":"n4","x":5590,"y":1.0},{"o":"ONDREJOV","id":"n4","x":5600,"y":1.0},

      {"o":"STRACHAN","id":"s1","x":5300,"y":1.03},{"o":"STRACHAN","id":"s1","x":5305,"y":1.06},{"o":"STRACHAN","id":"s1","x":5310,"y":1.0},{"o":"STRACHAN","id":"s1","x":5320,"y":1.03},{"o":"STRACHAN","id":"s1","x":5330,"y":1.01},{"o":"STRACHAN","id":"s1","x":5340,"y":1.04},{"o":"STRACHAN","id":"s1","x":5350,"y":1.01},{"o":"STRACHAN","id":"s1","x":5360,"y":1.02},{"o":"STRACHAN","id":"s1","x":5365,"y":1.03},{"o":"STRACHAN","id":"s1","x":5370,"y":1.06},{"o":"STRACHAN","id":"s1","x":5375,"y":1.11},{"o":"STRACHAN","id":"s1","x":5380,"y":1.2},{"o":"STRACHAN","id":"s1","x":5385,"y":1.35},{"o":"STRACHAN","id":"s1","x":5390,"y":1.6},{"o":"STRACHAN","id":"s1","x":5395,"y":1.92},{"o":"STRACHAN","id":"s1","x":5400,"y":2.14},{"o":"STRACHAN","id":"s1","x":5405,"y":2.28},{"o":"STRACHAN","id":"s1","x":5410,"y":2.35},{"o":"STRACHAN","id":"s1","x":5415,"y":2.36},{"o":"STRACHAN","id":"s1","x":5420,"y":2.26},{"o":"STRACHAN","id":"s1","x":5425,"y":2.1},{"o":"STRACHAN","id":"s1","x":5430,"y":1.88},{"o":"STRACHAN","id":"s1","x":5435,"y":1.58},{"o":"STRACHAN","id":"s1","x":5440,"y":1.3},{"o":"STRACHAN","id":"s1","x":5445,"y":1.14},{"o":"STRACHAN","id":"s1","x":5450,"y":1.08},{"o":"STRACHAN","id":"s1","x":5460,"y":1.09},{"o":"STRACHAN","id":"s1","x":5470,"y":1.07},{"o":"STRACHAN","id":"s1","x":5480,"y":1.05},{"o":"STRACHAN","id":"s1","x":5490,"y":1.07},{"o":"STRACHAN","id":"s1","x":5500,"y":1.06},{"o":"STRACHAN","id":"s1","x":5510,"y":1.03},{"o":"STRACHAN","id":"s1","x":5520,"y":1.0},{"o":"STRACHAN","id":"s1","x":5530,"y":0.99},{"o":"STRACHAN","id":"s1","x":5540,"y":1.0},{"o":"STRACHAN","id":"s1","x":5550,"y":0.98},{"o":"STRACHAN","id":"s1","x":5560,"y":1.01},{"o":"STRACHAN","id":"s1","x":5570,"y":0.99},{"o":"STRACHAN","id":"s1","x":5580,"y":1.02},{"o":"STRACHAN","id":"s1","x":5590,"y":1.0},{"o":"STRACHAN","id":"s1","x":5600,"y":1.01},

      {"o":"OMM","id":"m1","x":5300,"y":1.01},{"o":"OMM","id":"m1","x":5310,"y":0.99},{"o":"OMM","id":"m1","x":5320,"y":1.02},{"o":"OMM","id":"m1","x":5330,"y":1.0},{"o":"OMM","id":"m1","x":5340,"y":0.98},{"o":"OMM","id":"m1","x":5350,"y":1.0},{"o":"OMM","id":"m1","x":5360,"y":1.01},{"o":"OMM","id":"m1","x":5365,"y":1.02},{"o":"OMM","id":"m1","x":5370,"y":1.05},{"o":"OMM","id":"m1","x":5375,"y":1.09},{"o":"OMM","id":"m1","x":5380,"y":1.17},{"o":"OMM","id":"m1","x":5385,"y":1.32},{"o":"OMM","id":"m1","x":5390,"y":1.57},{"o":"OMM","id":"m1","x":5395,"y":1.88},{"o":"OMM","id":"m1","x":5400,"y":2.1},{"o":"OMM","id":"m1","x":5405,"y":2.25},{"o":"OMM","id":"m1","x":5410,"y":2.32},{"o":"OMM","id":"m1","x":5415,"y":2.33},{"o":"OMM","id":"m1","x":5420,"y":2.27},{"o":"OMM","id":"m1","x":5425,"y":2.15},{"o":"OMM","id":"m1","x":5430,"y":1.97},{"o":"OMM","id":"m1","x":5435,"y":1.7},{"o":"OMM","id":"m1","x":5440,"y":1.38},{"o":"OMM","id":"m1","x":5445,"y":1.17},{"o":"OMM","id":"m1","x":5450,"y":1.09},{"o":"OMM","id":"m1","x":5460,"y":1.07},{"o":"OMM","id":"m1","x":5470,"y":1.06},{"o":"OMM","id":"m1","x":5480,"y":1.04},{"o":"OMM","id":"m1","x":5490,"y":1.05},{"o":"OMM","id":"m1","x":5500,"y":1.05},{"o":"OMM","id":"m1","x":5510,"y":1.03},{"o":"OMM","id":"m1","x":5520,"y":0.99},{"o":"OMM","id":"m1","x":5530,"y":0.97},{"o":"OMM","id":"m1","x":5540,"y":0.98},{"o":"OMM","id":"m1","x":5550,"y":1.0},{"o":"OMM","id":"m1","x":5560,"y":0.99},{"o":"OMM","id":"m1","x":5570,"y":1.01},{"o":"OMM","id":"m1","x":5580,"y":1.0},{"o":"OMM","id":"m1","x":5590,"y":0.98},{"o":"OMM","id":"m1","x":5600,"y":1.0},

      {"o":"DAO","id":"d1","x":5300,"y":0.99},{"o":"DAO","id":"d1","x":5310,"y":1.0},{"o":"DAO","id":"d1","x":5320,"y":0.98},{"o":"DAO","id":"d1","x":5330,"y":0.99},{"o":"DAO","id":"d1","x":5340,"y":1.0},{"o":"DAO","id":"d1","x":5350,"y":0.98},{"o":"DAO","id":"d1","x":5360,"y":0.99},{"o":"DAO","id":"d1","x":5365,"y":1.0},{"o":"DAO","id":"d1","x":5370,"y":1.03},{"o":"DAO","id":"d1","x":5375,"y":1.07},{"o":"DAO","id":"d1","x":5380,"y":1.14},{"o":"DAO","id":"d1","x":5385,"y":1.28},{"o":"DAO","id":"d1","x":5390,"y":1.52},{"o":"DAO","id":"d1","x":5395,"y":1.85},{"o":"DAO","id":"d1","x":5400,"y":2.15},{"o":"DAO","id":"d1","x":5405,"y":2.35},{"o":"DAO","id":"d1","x":5410,"y":2.48},{"o":"DAO","id":"d1","x":5415,"y":2.5},{"o":"DAO","id":"d1","x":5420,"y":2.42},{"o":"DAO","id":"d1","x":5425,"y":2.28},{"o":"DAO","id":"d1","x":5430,"y":2.08},{"o":"DAO","id":"d1","x":5435,"y":1.8},{"o":"DAO","id":"d1","x":5440,"y":1.47},{"o":"DAO","id":"d1","x":5445,"y":1.22},{"o":"DAO","id":"d1","x":5450,"y":1.11},{"o":"DAO","id":"d1","x":5460,"y":1.08},{"o":"DAO","id":"d1","x":5470,"y":1.07},{"o":"DAO","id":"d1","x":5480,"y":1.05},{"o":"DAO","id":"d1","x":5490,"y":1.06},{"o":"DAO","id":"d1","x":5500,"y":1.07},{"o":"DAO","id":"d1","x":5510,"y":1.05},{"o":"DAO","id":"d1","x":5520,"y":1.01},{"o":"DAO","id":"d1","x":5530,"y":0.99},{"o":"DAO","id":"d1","x":5540,"y":0.99},{"o":"DAO","id":"d1","x":5550,"y":1.0},{"o":"DAO","id":"d1","x":5560,"y":1.0},{"o":"DAO","id":"d1","x":5570,"y":0.99},{"o":"DAO","id":"d1","x":5580,"y":1.0},{"o":"DAO","id":"d1","x":5590,"y":1.0},{"o":"DAO","id":"d1","x":5600,"y":0.99},

      {"o":"POTTER","id":"p1","x":5300,"y":1.04},{"o":"POTTER","id":"p1","x":5310,"y":1.02},{"o":"POTTER","id":"p1","x":5320,"y":1.07},{"o":"POTTER","id":"p1","x":5330,"y":1.05},{"o":"POTTER","id":"p1","x":5340,"y":1.01},{"o":"POTTER","id":"p1","x":5350,"y":1.03},{"o":"POTTER","id":"p1","x":5360,"y":1.02},{"o":"POTTER","id":"p1","x":5365,"y":1.04},{"o":"POTTER","id":"p1","x":5370,"y":1.06},{"o":"POTTER","id":"p1","x":5375,"y":1.1},{"o":"POTTER","id":"p1","x":5380,"y":1.19},{"o":"POTTER","id":"p1","x":5385,"y":1.34},{"o":"POTTER","id":"p1","x":5390,"y":1.6},{"o":"POTTER","id":"p1","x":5395,"y":1.93},{"o":"POTTER","id":"p1","x":5400,"y":2.18},{"o":"POTTER","id":"p1","x":5405,"y":2.33},{"o":"POTTER","id":"p1","x":5410,"y":2.4},{"o":"POTTER","id":"p1","x":5415,"y":2.38},{"o":"POTTER","id":"p1","x":5420,"y":2.3},{"o":"POTTER","id":"p1","x":5425,"y":2.18},{"o":"POTTER","id":"p1","x":5430,"y":1.98},{"o":"POTTER","id":"p1","x":5435,"y":1.7},{"o":"POTTER","id":"p1","x":5440,"y":1.38},{"o":"POTTER","id":"p1","x":5445,"y":1.17},{"o":"POTTER","id":"p1","x":5450,"y":1.1},{"o":"POTTER","id":"p1","x":5460,"y":1.09},{"o":"POTTER","id":"p1","x":5470,"y":1.08},{"o":"POTTER","id":"p1","x":5480,"y":1.06},{"o":"POTTER","id":"p1","x":5490,"y":1.06},{"o":"POTTER","id":"p1","x":5500,"y":1.05},{"o":"POTTER","id":"p1","x":5510,"y":1.04},{"o":"POTTER","id":"p1","x":5520,"y":1.02},{"o":"POTTER","id":"p1","x":5530,"y":1.0},{"o":"POTTER","id":"p1","x":5540,"y":1.01},{"o":"POTTER","id":"p1","x":5550,"y":1.02},{"o":"POTTER","id":"p1","x":5560,"y":1.03},{"o":"POTTER","id":"p1","x":5570,"y":1.01},{"o":"POTTER","id":"p1","x":5580,"y":1.02},{"o":"POTTER","id":"p1","x":5590,"y":1.03},{"o":"POTTER","id":"p1","x":5600,"y":1.01},

      {"o":"LI","id":"l1","x":5300,"y":0.98},{"o":"LI","id":"l1","x":5310,"y":0.97},{"o":"LI","id":"l1","x":5320,"y":0.99},{"o":"LI","id":"l1","x":5330,"y":0.98},{"o":"LI","id":"l1","x":5340,"y":0.97},{"o":"LI","id":"l1","x":5350,"y":0.98},{"o":"LI","id":"l1","x":5360,"y":1.0},{"o":"LI","id":"l1","x":5365,"y":1.02},{"o":"LI","id":"l1","x":5370,"y":1.06},{"o":"LI","id":"l1","x":5375,"y":1.13},{"o":"LI","id":"l1","x":5380,"y":1.25},{"o":"LI","id":"l1","x":5385,"y":1.45},{"o":"LI","id":"l1","x":5390,"y":1.72},{"o":"LI","id":"l1","x":5395,"y":2.02},{"o":"LI","id":"l1","x":5400,"y":2.28},{"o":"LI","id":"l1","x":5405,"y":2.45},{"o":"LI","id":"l1","x":5410,"y":2.52},{"o":"LI","id":"l1","x":5415,"y":2.48},{"o":"LI","id":"l1","x":5420,"y":2.36},{"o":"LI","id":"l1","x":5425,"y":2.18},{"o":"LI","id":"l1","x":5430,"y":1.92},{"o":"LI","id":"l1","x":5435,"y":1.58},{"o":"LI","id":"l1","x":5440,"y":1.28},{"o":"LI","id":"l1","x":5445,"y":1.12},{"o":"LI","id":"l1","x":5450,"y":1.06},{"o":"LI","id":"l1","x":5460,"y":1.04},{"o":"LI","id":"l1","x":5470,"y":1.03},{"o":"LI","id":"l1","x":5480,"y":1.01},{"o":"LI","id":"l1","x":5490,"y":1.02},{"o":"LI","id":"l1","x":5500,"y":1.02},{"o":"LI","id":"l1","x":5510,"y":1.0},{"o":"LI","id":"l1","x":5520,"y":0.98},{"o":"LI","id":"l1","x":5530,"y":0.96},{"o":"LI","id":"l1","x":5540,"y":0.97},{"o":"LI","id":"l1","x":5550,"y":0.98},{"o":"LI","id":"l1","x":5560,"y":0.98},{"o":"LI","id":"l1","x":5570,"y":0.97},{"o":"LI","id":"l1","x":5580,"y":0.98},{"o":"LI","id":"l1","x":5590,"y":0.97},{"o":"LI","id":"l1","x":5600,"y":0.98},

      {"o":"LEADBEATER","id":"b1","x":5300,"y":1.0},{"o":"LEADBEATER","id":"b1","x":5310,"y":1.01},{"o":"LEADBEATER","id":"b1","x":5320,"y":0.99},{"o":"LEADBEATER","id":"b1","x":5330,"y":1.0},{"o":"LEADBEATER","id":"b1","x":5340,"y":1.0},{"o":"LEADBEATER","id":"b1","x":5350,"y":0.99},{"o":"LEADBEATER","id":"b1","x":5360,"y":1.0},{"o":"LEADBEATER","id":"b1","x":5365,"y":1.01},{"o":"LEADBEATER","id":"b1","x":5370,"y":1.04},{"o":"LEADBEATER","id":"b1","x":5375,"y":1.08},{"o":"LEADBEATER","id":"b1","x":5380,"y":1.16},{"o":"LEADBEATER","id":"b1","x":5385,"y":1.3},{"o":"LEADBEATER","id":"b1","x":5390,"y":1.54},{"o":"LEADBEATER","id":"b1","x":5395,"y":1.87},{"o":"LEADBEATER","id":"b1","x":5400,"y":2.12},{"o":"LEADBEATER","id":"b1","x":5405,"y":2.28},{"o":"LEADBEATER","id":"b1","x":5410,"y":2.36},{"o":"LEADBEATER","id":"b1","x":5415,"y":2.37},{"o":"LEADBEATER","id":"b1","x":5420,"y":2.3},{"o":"LEADBEATER","id":"b1","x":5425,"y":2.18},{"o":"LEADBEATER","id":"b1","x":5430,"y":1.98},{"o":"LEADBEATER","id":"b1","x":5435,"y":1.72},{"o":"LEADBEATER","id":"b1","x":5440,"y":1.4},{"o":"LEADBEATER","id":"b1","x":5445,"y":1.18},{"o":"LEADBEATER","id":"b1","x":5450,"y":1.1},{"o":"LEADBEATER","id":"b1","x":5460,"y":1.08},{"o":"LEADBEATER","id":"b1","x":5470,"y":1.07},{"o":"LEADBEATER","id":"b1","x":5480,"y":1.05},{"o":"LEADBEATER","id":"b1","x":5490,"y":1.05},{"o":"LEADBEATER","id":"b1","x":5500,"y":1.06},{"o":"LEADBEATER","id":"b1","x":5510,"y":1.04},{"o":"LEADBEATER","id":"b1","x":5520,"y":1.0},{"o":"LEADBEATER","id":"b1","x":5530,"y":0.98},{"o":"LEADBEATER","id":"b1","x":5540,"y":0.99},{"o":"LEADBEATER","id":"b1","x":5550,"y":0.99},{"o":"LEADBEATER","id":"b1","x":5560,"y":1.0},{"o":"LEADBEATER","id":"b1","x":5570,"y":1.0},{"o":"LEADBEATER","id":"b1","x":5580,"y":1.0},{"o":"LEADBEATER","id":"b1","x":5590,"y":0.99},{"o":"LEADBEATER","id":"b1","x":5600,"y":1.0},

      {"o":"NORDIC","id":"r1","x":5300,"y":1.0},{"o":"NORDIC","id":"r1","x":5310,"y":0.99},{"o":"NORDIC","id":"r1","x":5320,"y":1.0},{"o":"NORDIC","id":"r1","x":5330,"y":1.0},{"o":"NORDIC","id":"r1","x":5340,"y":0.99},{"o":"NORDIC","id":"r1","x":5350,"y":0.99},{"o":"NORDIC","id":"r1","x":5360,"y":1.0},{"o":"NORDIC","id":"r1","x":5365,"y":1.01},{"o":"NORDIC","id":"r1","x":5370,"y":1.03},{"o":"NORDIC","id":"r1","x":5375,"y":1.07},{"o":"NORDIC","id":"r1","x":5380,"y":1.15},{"o":"NORDIC","id":"r1","x":5385,"y":1.29},{"o":"NORDIC","id":"r1","x":5390,"y":1.52},{"o":"NORDIC","id":"r1","x":5395,"y":1.84},{"o":"NORDIC","id":"r1","x":5400,"y":2.08},{"o":"NORDIC","id":"r1","x":5405,"y":2.22},{"o":"NORDIC","id":"r1","x":5410,"y":2.28},{"o":"NORDIC","id":"r1","x":5415,"y":2.3},{"o":"NORDIC","id":"r1","x":5420,"y":2.28},{"o":"NORDIC","id":"r1","x":5425,"y":2.2},{"o":"NORDIC","id":"r1","x":5430,"y":2.02},{"o":"NORDIC","id":"r1","x":5435,"y":1.75},{"o":"NORDIC","id":"r1","x":5440,"y":1.44},{"o":"NORDIC","id":"r1","x":5445,"y":1.21},{"o":"NORDIC","id":"r1","x":5450,"y":1.12},{"o":"NORDIC","id":"r1","x":5460,"y":1.09},{"o":"NORDIC","id":"r1","x":5470,"y":1.08},{"o":"NORDIC","id":"r1","x":5480,"y":1.06},{"o":"NORDIC","id":"r1","x":5490,"y":1.06},{"o":"NORDIC","id":"r1","x":5500,"y":1.06},{"o":"NORDIC","id":"r1","x":5510,"y":1.04},{"o":"NORDIC","id":"r1","x":5520,"y":1.0},{"o":"NORDIC","id":"r1","x":5530,"y":0.98},{"o":"NORDIC","id":"r1","x":5540,"y":0.98},{"o":"NORDIC","id":"r1","x":5550,"y":0.99},{"o":"NORDIC","id":"r1","x":5560,"y":0.99},{"o":"NORDIC","id":"r1","x":5570,"y":1.0},{"o":"NORDIC","id":"r1","x":5580,"y":1.0},{"o":"NORDIC","id":"r1","x":5590,"y":1.0},{"o":"NORDIC","id":"r1","x":5600,"y":1.0},

      {"o":"AVERAGE","id":"a1","x":5300,"y":1.0},{"o":"AVERAGE","id":"a1","x":5310,"y":1.0},{"o":"AVERAGE","id":"a1","x":5320,"y":1.0},{"o":"AVERAGE","id":"a1","x":5330,"y":0.995},{"o":"AVERAGE","id":"a1","x":5340,"y":0.99},{"o":"AVERAGE","id":"a1","x":5350,"y":0.99},{"o":"AVERAGE","id":"a1","x":5360,"y":1.0},{"o":"AVERAGE","id":"a1","x":5365,"y":1.01},{"o":"AVERAGE","id":"a1","x":5370,"y":1.04},{"o":"AVERAGE","id":"a1","x":5375,"y":1.08},{"o":"AVERAGE","id":"a1","x":5380,"y":1.16},{"o":"AVERAGE","id":"a1","x":5385,"y":1.3},{"o":"AVERAGE","id":"a1","x":5390,"y":1.55},{"o":"AVERAGE","id":"a1","x":5395,"y":1.9},{"o":"AVERAGE","id":"a1","x":5400,"y":2.15},{"o":"AVERAGE","id":"a1","x":5405,"y":2.3},{"o":"AVERAGE","id":"a1","x":5410,"y":2.4},{"o":"AVERAGE","id":"a1","x":5412,"y":2.43},{"o":"AVERAGE","id":"a1","x":5415,"y":2.4},{"o":"AVERAGE","id":"a1","x":5420,"y":2.32},{"o":"AVERAGE","id":"a1","x":5425,"y":2.22},{"o":"AVERAGE","id":"a1","x":5430,"y":2.03},{"o":"AVERAGE","id":"a1","x":5435,"y":1.75},{"o":"AVERAGE","id":"a1","x":5440,"y":1.42},{"o":"AVERAGE","id":"a1","x":5445,"y":1.2},{"o":"AVERAGE","id":"a1","x":5450,"y":1.11},{"o":"AVERAGE","id":"a1","x":5455,"y":1.08},{"o":"AVERAGE","id":"a1","x":5460,"y":1.075},{"o":"AVERAGE","id":"a1","x":5470,"y":1.065},{"o":"AVERAGE","id":"a1","x":5480,"y":1.045},{"o":"AVERAGE","id":"a1","x":5490,"y":1.055},{"o":"AVERAGE","id":"a1","x":5500,"y":1.06},{"o":"AVERAGE","id":"a1","x":5510,"y":1.04},{"o":"AVERAGE","id":"a1","x":5520,"y":1.0},{"o":"AVERAGE","id":"a1","x":5530,"y":0.98},{"o":"AVERAGE","id":"a1","x":5540,"y":0.985},{"o":"AVERAGE","id":"a1","x":5550,"y":0.99},{"o":"AVERAGE","id":"a1","x":5560,"y":0.995},{"o":"AVERAGE","id":"a1","x":5570,"y":0.995},{"o":"AVERAGE","id":"a1","x":5580,"y":1.0},{"o":"AVERAGE","id":"a1","x":5590,"y":1.0},{"o":"AVERAGE","id":"a1","x":5600,"y":1.0}
    ],
    "dash": [
      {"x": 5300, "x2": 5340, "y": 0.5},
      {"x": 5540, "x2": 5600, "y": 0.5}
    ]
  },
  "layer": [
    {
      "data": {"name": "spec"},
      "transform": [{"filter": "datum.o === 'TEIDE'"}],
      "mark": {"type": "line", "strokeWidth": 1, "clip": true},
      "encoding": {
        "x": {"field": "x", "type": "quantitative", "scale": {"domain": [5300, 5600], "nice": false, "zero": false},
          "axis": {"orient": "bottom", "title": "WAVELENGTH (ANGSTROMS)", "titlePadding": 0, "format": "d",
            "values": [5300,5310,5320,5330,5340,5350,5360,5370,5380,5390,5400,5410,5420,5430,5440,5450,5460,5470,5480,5490,5500,5510,5520,5530,5540,5550,5560,5570,5580,5590,5600],
            "labelExpr": "datum.value % 50 === 0 ? datum.label : ''",
            "tickSize": {"condition": {"test": "datum.value % 50 === 0", "value": -10}, "value": -5},
            "labelPadding": 14, "labelFlush": false, "labelOverlap": false}},
        "y": {"field": "y", "type": "quantitative", "scale": {"domain": [0, 3], "nice": false, "zero": false},
          "axis": {"orient": "left", "title": "NORMALIZED FLUX", "titlePadding": 8,
            "values": [0,0.1,0.2,0.3,0.4,0.5,0.6,0.7,0.8,0.9,1.0,1.1,1.2,1.3,1.4,1.5,1.6,1.7,1.8,1.9,2.0,2.1,2.2,2.3,2.4,2.5,2.6,2.7,2.8,2.9,3.0],
            "labelExpr": "abs(datum.value*2 - round(datum.value*2)) < 0.001 ? format(datum.value, '.1f') : ''",
            "tickSize": {"condition": {"test": "abs(datum.value*2 - round(datum.value*2)) < 0.001", "value": -10}, "value": -5},
            "labelPadding": 15, "labelOverlap": false, "labelFlush": false}},
        "color": {"field": "o", "type": "nominal",
          "scale": {"domain": ["TEIDE","OMM","DAO","POTTER","LI","STRACHAN","ONDREJOV","LEADBEATER","NORDIC","AVERAGE"],
                    "range": ["#FF0000","#20EE20","#1E1EE8","#FFFF00","#FF6A14","#80FF00","#1A78FF","#00FF7A","#FF0A6E","#000000"]},
          "legend": {"orient": "none", "legendX": 251, "legendY": 8, "columns": 2, "title": null,
            "symbolOpacity": 0, "symbolSize": 0, "symbolStrokeWidth": 0, "labelOffset": 0,
            "labelFontSize": 16, "labelFont": "Liberation Sans", "columnPadding": 61, "rowPadding": 10,
            "encode": {"labels": {"update": {"fill": {"scale": "color", "field": "value"}}}}}},
        "detail": {"field": "id"}
      }
    },
    {
      "data": {"name": "spec"},
      "transform": [{"filter": "datum.o === 'ONDREJOV'"}],
      "mark": {"type": "line", "strokeWidth": 5, "interpolate": "monotone", "clip": true},
      "encoding": {
        "x": {"field": "x", "type": "quantitative", "axis": null},
        "y": {"field": "y", "type": "quantitative", "axis": null},
        "color": {"field": "o", "type": "nominal"},
        "detail": {"field": "id"}
      }
    },
    {
      "data": {"name": "spec"},
      "transform": [{"filter": "datum.o !== 'ONDREJOV' && datum.o !== 'TEIDE' && datum.o !== 'AVERAGE'"}],
      "mark": {"type": "line", "strokeWidth": 1, "clip": true},
      "encoding": {
        "x": {"field": "x", "type": "quantitative", "axis": null},
        "y": {"field": "y", "type": "quantitative", "axis": null},
        "color": {"field": "o", "type": "nominal"},
        "detail": {"field": "id"}
      }
    },
    {
      "data": {"name": "spec"},
      "transform": [{"filter": "datum.o === 'AVERAGE'"}],
      "mark": {"type": "line", "strokeWidth": 1.6, "interpolate": "monotone", "clip": true},
      "encoding": {
        "x": {"field": "x", "type": "quantitative", "axis": null},
        "y": {"field": "y", "type": "quantitative", "axis": null},
        "color": {"field": "o", "type": "nominal"},
        "detail": {"field": "id"}
      }
    },
    {
      "data": {"name": "dash"},
      "mark": {"type": "rule", "color": "black", "strokeDash": [8, 6], "strokeWidth": 1},
      "encoding": {
        "x": {"field": "x", "type": "quantitative",
          "axis": {"orient": "top", "labels": false, "title": null, "domainColor": "black",
            "values": [5300,5310,5320,5330,5340,5350,5360,5370,5380,5390,5400,5410,5420,5430,5440,5450,5460,5470,5480,5490,5500,5510,5520,5530,5540,5550,5560,5570,5580,5590,5600],
            "tickSize": {"condition": {"test": "datum.value % 50 === 0", "value": -10}, "value": -5}}},
        "x2": {"field": "x2"},
        "y": {"field": "y", "type": "quantitative",
          "axis": {"orient": "right", "labels": false, "title": null,
            "values": [0,0.1,0.2,0.3,0.4,0.5,0.6,0.7,0.8,0.9,1.0,1.1,1.2,1.3,1.4,1.5,1.6,1.7,1.8,1.9,2.0,2.1,2.2,2.3,2.4,2.5,2.6,2.7,2.8,2.9,3.0],
            "tickSize": {"condition": {"test": "abs(datum.value*2 - round(datum.value*2)) < 0.001", "value": -10}, "value": -5}}}
      }
    }
  ],
  "resolve": {"axis": {"x": "independent", "y": "independent"}}
}
